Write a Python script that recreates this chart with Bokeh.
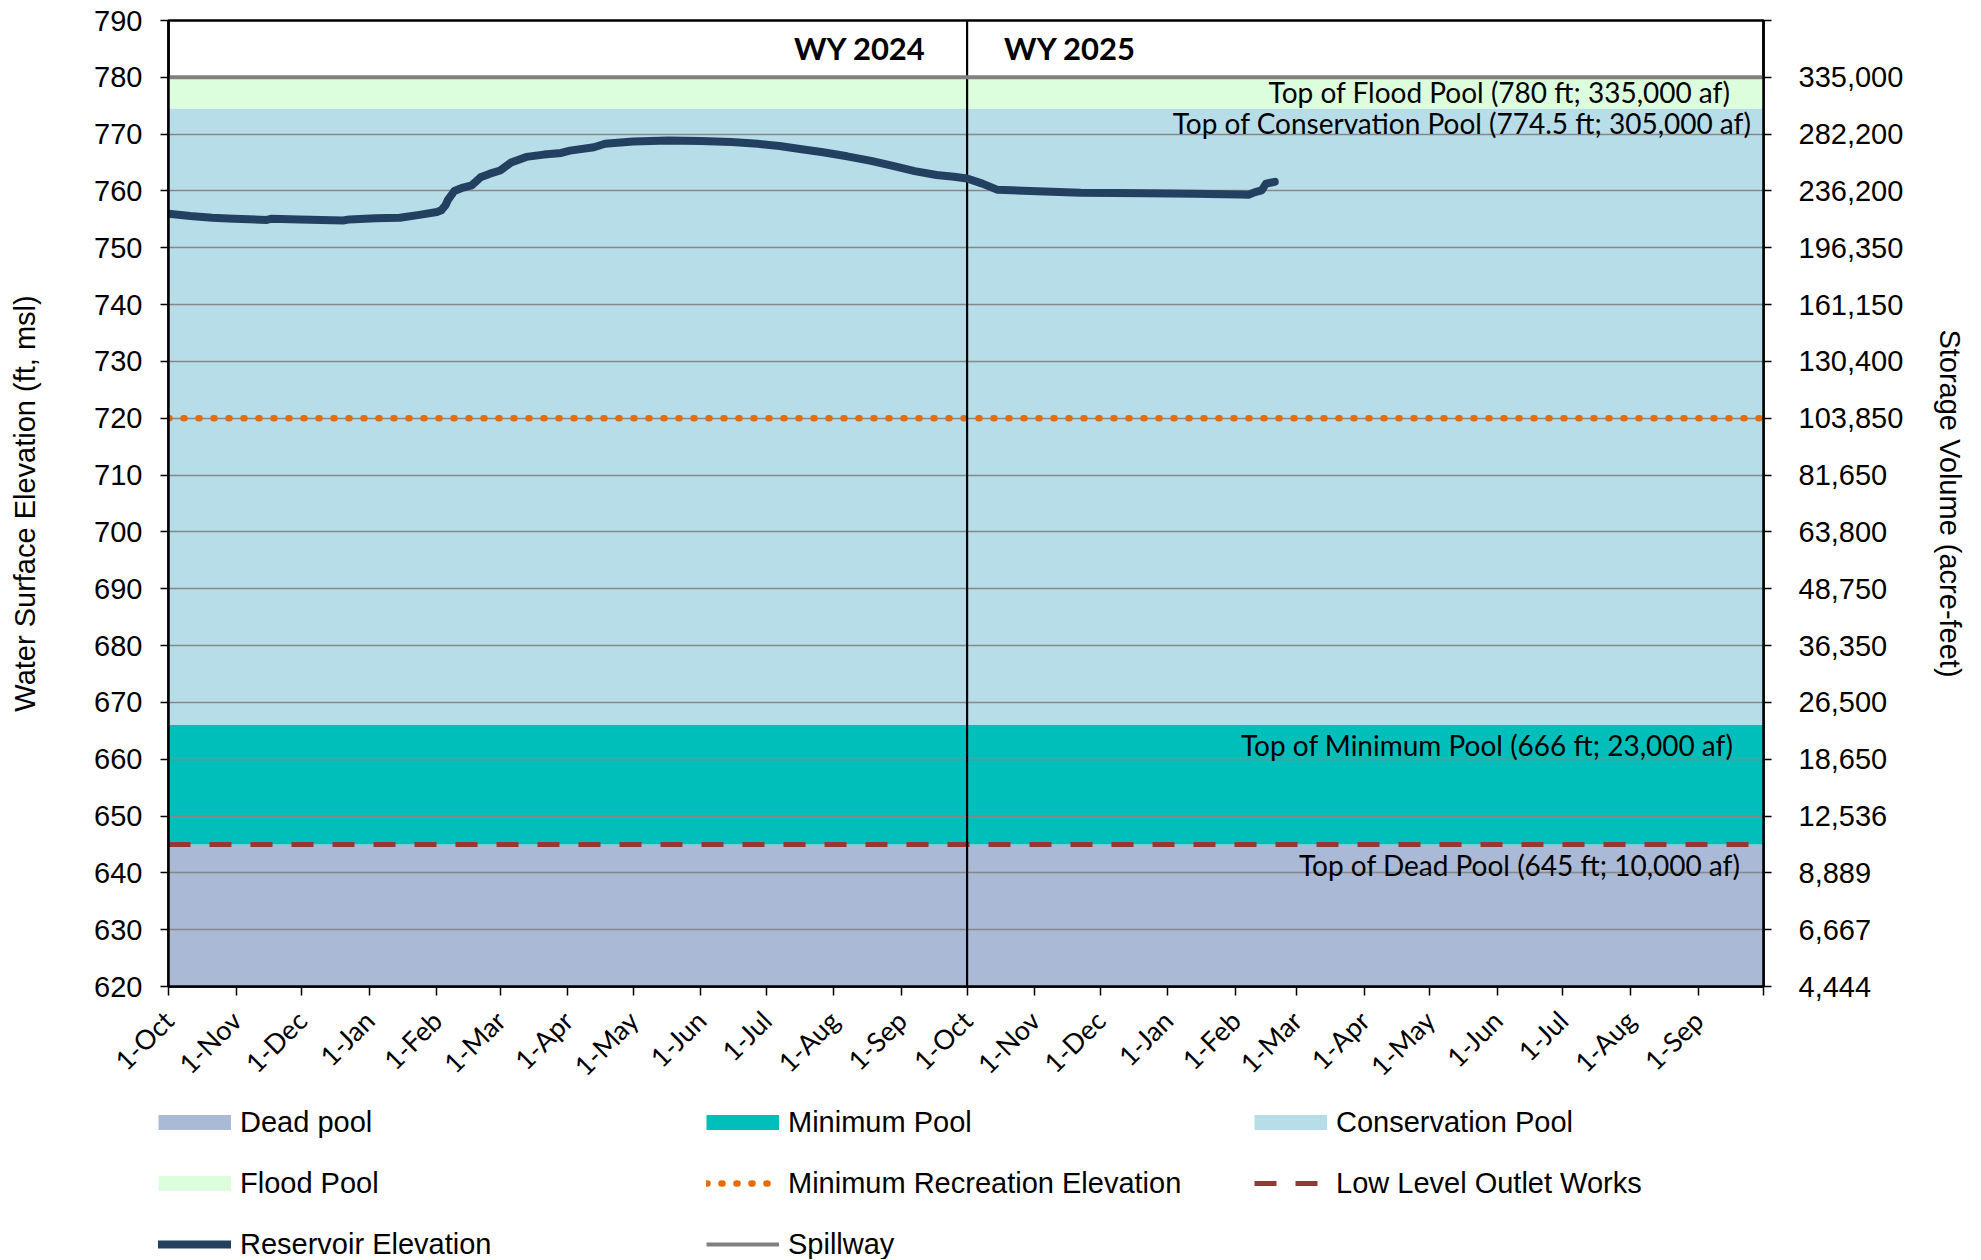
import math
import pandas as pd
from bokeh.plotting import figure
from bokeh.layouts import column
from bokeh.models import Range1d, LinearAxis, FixedTicker, Legend, LegendItem, ColumnDataSource
from bokeh.core.properties import value
from bokeh.embed import file_html
from bokeh.resources import INLINE

# ---------------- data ----------------
axis_start = pd.Timestamp("2023-10-01")
axis_end = pd.Timestamp("2025-10-01")
wy_split = pd.Timestamp("2024-10-01")
wy_labels = ["WY 2024", "WY 2025"]

pool_names = ["Dead pool", "Minimum Pool", "Conservation Pool", "Flood Pool"]
pool_bottom = [620, 645, 666, 774.5]
pool_top = [645, 666, 774.5, 780]

spillway_elev = 780
min_rec_elev = 720
outlet_elev = 645

elev_ticks = [620, 630, 640, 650, 660, 670, 680, 690, 700, 710, 720, 730, 740, 750, 760, 770, 780, 790]
storage_labels = ["4,444", "6,667", "8,889", "12,536", "18,650", "26,500", "36,350", "48,750",
                  "63,800", "81,650", "103,850", "130,400", "161,150", "196,350", "236,200",
                  "282,200", "335,000", ""]

month_labels = ["1-Oct", "1-Nov", "1-Dec", "1-Jan", "1-Feb", "1-Mar", "1-Apr", "1-May",
                "1-Jun", "1-Jul", "1-Aug", "1-Sep"] * 2 + [""]

level_labels = ["Top of Flood Pool (780 ft; 335,000 af)",
                "Top of Conservation Pool (774.5 ft; 305,000 af)",
                "Top of Minimum Pool (666 ft; 23,000 af)",
                "Top of Dead Pool (645 ft; 10,000 af)"]
level_elev = [780, 774.5, 666, 645]

# reservoir elevation: days since 1-Oct-2023, elevation (ft)
res_day = [0, 10, 20, 30, 45, 47, 60, 70, 80, 83, 95, 106, 115, 123, 125, 127, 128, 131, 135,
           139, 143, 147, 152, 157, 164, 172, 180, 184, 195, 200, 213, 229, 244, 258, 270,
           280, 291, 300, 311, 322, 332, 342, 352, 360, 366, 373, 380, 395, 418, 448, 470,
           491, 495, 498, 501, 503, 507]
res_elev = [756.0, 755.6, 755.3, 755.1, 754.9, 755.1, 755.0, 754.9, 754.8, 755.0, 755.2, 755.3,
            755.8, 756.3, 756.6, 757.5, 758.4, 760.0, 760.6, 761.0, 762.4, 763.0, 763.6, 765.0,
            766.0, 766.4, 766.7, 767.1, 767.7, 768.3, 768.7, 768.9, 768.8, 768.6, 768.3, 767.9,
            767.3, 766.8, 766.1, 765.3, 764.4, 763.5, 762.8, 762.5, 762.2, 761.3, 760.2, 760.0,
            759.7, 759.6, 759.5, 759.4, 759.35, 759.8, 760.1, 761.3, 761.6]

# ---------------- style ----------------
pool_colors = ["#A9B9D6", "#00BFBA", "#B7DDE8", "#DDFEDD"]
res_color = "#244061"
rec_color = "#E46C0A"
out_color = "#953735"
spill_color = "#808080"
ARIAL = "Liberation Sans"
CAL = "Lato"
W = 1975
FRAME_LEFT = 168

res_dates = [axis_start + pd.Timedelta(days=d) for d in res_day]
month_ticks = list(pd.date_range(axis_start, axis_end, freq="MS"))
tick_ms = [t.value / 1e6 for t in month_ticks]

p = figure(width=W, height=1096, x_axis_type="datetime",
           x_range=Range1d(axis_start, axis_end), y_range=Range1d(620, 790),
           output_backend="svg", toolbar_location=None,
           min_border_left=FRAME_LEFT, min_border_right=W - 1763, min_border_top=20,
           min_border_bottom=108)
p.outline_line_color = "black"
p.outline_line_width = 2.5
p.background_fill_color = "white"

# pools
pool_src = ColumnDataSource(dict(left=[axis_start] * 4, right=[axis_end] * 4,
                                 bottom=pool_bottom, top=pool_top, color=pool_colors))
p.quad(left="left", right="right", bottom="bottom", top="top", fill_color="color",
       line_color=None, source=pool_src, level="image")

# grid
p.xgrid.visible = False
p.ygrid.ticker = FixedTicker(ticks=elev_ticks)
p.ygrid.grid_line_color = "#878787"
p.ygrid.grid_line_width = 1.3

# reference lines
rec_style = dict(line_color=rec_color, line_width=6.5, line_dash="1 14", line_cap="round")
out_style = dict(line_color=out_color, line_width=5, line_dash="22 19")
spill_style = dict(line_color=spill_color, line_width=4)
res_style = dict(line_color=res_color, line_width=8, line_cap="round", line_join="round")

p.line([axis_start, axis_end], [min_rec_elev] * 2, **rec_style)
p.line([axis_start, axis_end], [outlet_elev] * 2, **out_style)
p.line([wy_split, wy_split], [620, 790], line_color="black", line_width=2.2)
p.line([axis_start, axis_end], [spillway_elev] * 2, **spill_style)
p.line(res_dates, res_elev, **res_style)

# level annotations
lab_src = ColumnDataSource(dict(x=[axis_end] * 4, y=level_elev, text=level_labels,
                                dx=[-33, -12, -30, -23], dy=[15, 14, 20, 21]))
p.text(x="x", y="y", text="text", x_offset="dx", y_offset="dy", source=lab_src,
       text_align="right", text_baseline="alphabetic", text_font=value(CAL),
       text_font_size="28px", text_color="black")

p.text(x=[wy_split], y=[790], text=[wy_labels[0]], x_offset=-41, y_offset=27, text_align="right",
       text_baseline="alphabetic", text_font=value(CAL), text_font_style="bold",
       text_font_size="31px", text_color="black")
p.text(x=[wy_split], y=[790], text=[wy_labels[1]], x_offset=37, y_offset=27, text_align="left",
       text_baseline="alphabetic", text_font=value(CAL), text_font_style="bold",
       text_font_size="31px", text_color="black")

# axes
def style_axis(ax):
    ax.axis_line_color = "black"
    ax.axis_line_width = 2.5
    ax.major_tick_line_color = "black"
    ax.major_tick_line_width = 1.5
    ax.major_tick_in = 0
    ax.major_tick_out = 8
    ax.minor_tick_line_color = None
    ax.major_label_text_color = "black"
    ax.axis_label_text_color = "black"
    ax.axis_label_text_font = ARIAL
    ax.axis_label_text_font_style = "normal"
    ax.axis_label_text_font_size = "29px"

ya = p.yaxis[0]
style_axis(ya)
ya.ticker = FixedTicker(ticks=elev_ticks)
ya.major_label_text_font = ARIAL
ya.major_label_text_font_size = "29px"
ya.major_label_standoff = 18
ya.axis_label = "Water Surface Elevation (ft, msl)"
ya.axis_label_standoff = 50

p.extra_y_ranges = {"storage": Range1d(620, 790)}
ra = LinearAxis(y_range_name="storage", ticker=FixedTicker(ticks=elev_ticks),
                major_label_overrides={t: s for t, s in zip(elev_ticks, storage_labels)})
style_axis(ra)
ra.major_label_text_font = ARIAL
ra.major_label_text_font_size = "29px"
ra.major_label_standoff = 27
ra.axis_label = "Storage Volume (acre-feet)"
ra.axis_label_standoff = 28
p.add_layout(ra, "right")

xa = p.xaxis[0]
style_axis(xa)
xa.major_tick_out = 9
xa.ticker = FixedTicker(ticks=tick_ms)
xa.major_label_overrides = {t: s for t, s in zip(tick_ms, month_labels)}
xa.major_label_orientation = math.pi / 4
xa.major_label_text_font = CAL
xa.major_label_text_font_size = "27px"
xa.major_label_standoff = 20

# ---------------- legend panel ----------------
P2H = 163
p2 = figure(width=W, height=P2H, x_range=Range1d(0, 1), y_range=Range1d(0, 1),
            output_backend="svg", toolbar_location=None,
            x_axis_location=None, y_axis_location=None,
            min_border_left=0, min_border_right=0, min_border_top=0, min_border_bottom=0)
p2.grid.visible = False
p2.outline_line_color = None
legend_x = 158 - FRAME_LEFT
if "frame_align" in p2.properties():
    p2.frame_align = False
    legend_x = 158

nan = float("nan")
def proxy(**kw):
    return p2.line(x=[0, 1], y=[nan, nan], **kw)

pool_proxies = [proxy(line_color=c, line_width=15, line_cap="butt") for c in pool_colors]
rec_proxy = proxy(**rec_style)
out_proxy = proxy(**out_style)
res_proxy = proxy(**res_style)
spill_proxy = proxy(**spill_style)

items = [
    LegendItem(label=pool_names[0], renderers=[pool_proxies[0]]),
    LegendItem(label=pool_names[1], renderers=[pool_proxies[1]]),
    LegendItem(label=pool_names[2], renderers=[pool_proxies[2]]),
    LegendItem(label=pool_names[3], renderers=[pool_proxies[3]]),
    LegendItem(label="Minimum Recreation Elevation", renderers=[rec_proxy]),
    LegendItem(label="Low Level Outlet Works", renderers=[out_proxy]),
    LegendItem(label="Reservoir Elevation", renderers=[res_proxy]),
    LegendItem(label="Spillway", renderers=[spill_proxy]),
]
legend = Legend(items=items, orientation="horizontal", ncols=3,
                location=(legend_x, P2H - 165),
                glyph_width=73, glyph_height=34, label_height=34, label_width=439,
                label_standoff=9, spacing=27, padding=0, margin=0,
                border_line_alpha=0, background_fill_alpha=0,
                label_text_font=ARIAL, label_text_font_size="29px", label_text_color="black")
p2.add_layout(legend)

layout = column(p, p2, spacing=0)
open("out.html", "w").write(file_html(layout, INLINE))
